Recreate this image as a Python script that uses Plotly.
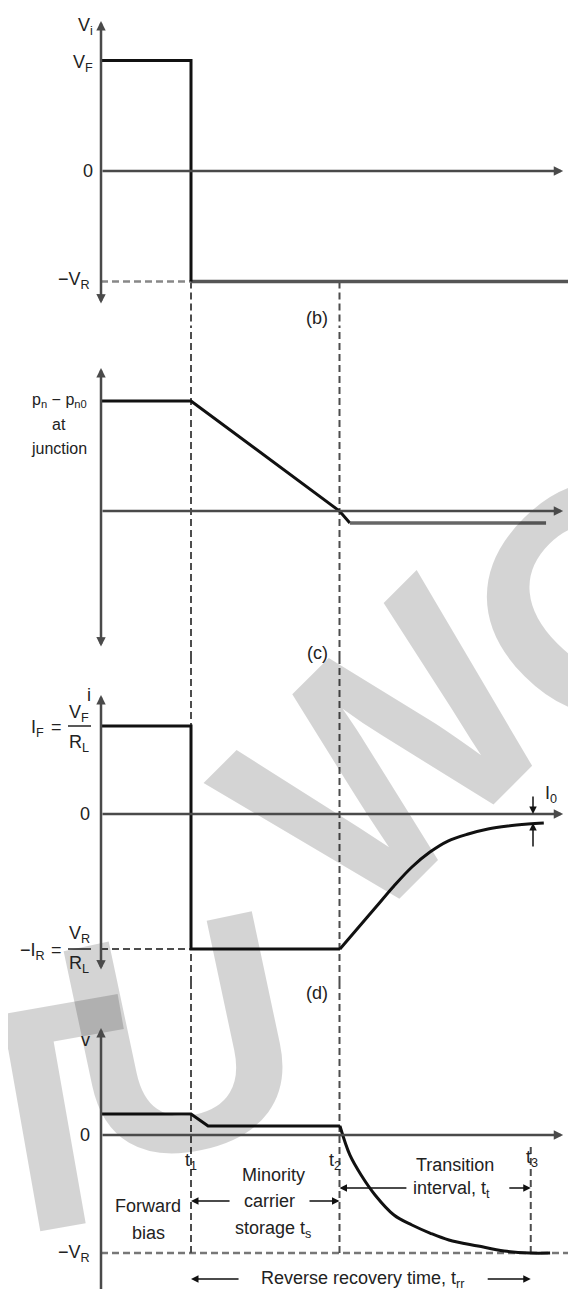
import plotly.graph_objects as go

# time instants (arbitrary units): t1 = end of forward bias, t2 = end of storage, t3 = end of transition
t1, t2, t3 = 2.0, 5.3, 9.55
t_axis_end = 10.27

# (b) applied voltage v_i
V_F, V_R = 1.0, 1.0
vi_time = [0.0, 2.0, 2.0, 10.42]
vi_level = [1.0, 1.0, -1.0, -1.0]

# (c) excess carrier density p_n - p_n0 at the junction
pn_time = [0.0, 2.0, 5.3, 5.53, 9.89]
pn_level = [1.0, 1.0, 0.0, -0.109, -0.109]

# (d) diode current i
I_F, I_R, I_0 = 1.0, 1.534, 0.102
i_time = [0.0, 2.0, 2.0, 5.31, 5.71, 6.11, 6.51, 6.91, 7.31, 7.71, 8.16, 8.6, 9.04, 9.49, 9.84]
i_level = [1.0, 1.0, -1.534, -1.534, -1.295, -1.057, -0.818, -0.602, -0.432, -0.307, -0.227, -0.17, -0.136, -0.114, -0.102]

# (e) diode voltage v
v_time = [0.0, 2.0, 2.38, 5.31, 5.53, 5.78, 6.09, 6.51, 6.91, 7.31, 7.73, 8.38, 8.96, 9.53, 9.98]
v_level = [0.178, 0.178, 0.076, 0.076, -0.169, -0.339, -0.508, -0.678, -0.763, -0.831, -0.89, -0.941, -0.983, -1.0, -1.0]

W, H = 576, 1289
X0_PX, PX_PER_T = 93, 45
FONT = "Liberation Sans"
INK = "#111111"
AXIS = "#4a4a4a"
DASH = "#4d4d4d"

# panel geometry in pixels: top, bottom, zero line, pixels per unit
panels = {
    "y": (0, 320, 163, 110.5),
    "y2": (320, 650, 503, 110.0),
    "y3": (650, 975, 806, 88.0),
    "y4": (975, 1289, 1127, 118.0),
}


def yval(ax, py):
    top, bot, zero, scale = panels[ax]
    return (zero - py) / scale


fig = go.Figure()

annotations = []

# watermark letters, kept faint so the drawing shows through
for ch, px, py, ang in [("T", 35, 1110, -10), ("U", 172, 1030, -12),
                        ("W", 380, 745, -45), ("O", 595, 590, -45)]:
    annotations.append(dict(
        text="<b>%s</b>" % ch, x=px / W, y=1 - py / H, xref="paper", yref="paper",
        xanchor="center", yanchor="middle", showarrow=False, textangle=ang,
        font=dict(family=FONT, size=320, color="rgba(0,0,0,0.17)"),
    ))


def line(ax, xs, ys, color=INK, width=3, dash=None, shape="linear"):
    fig.add_trace(go.Scatter(
        x=xs, y=ys, xaxis="x", yaxis=ax, mode="lines",
        line=dict(color=color, width=width, dash=dash, shape=shape, smoothing=1.0),
        hoverinfo="skip", showlegend=False,
    ))


def vdash(ax, t, y0, y1):
    line(ax, [t, t], [y0, y1], color=DASH, width=2, dash="7px,4px")


def label(text, px, py, size=18, **kw):
    annotations.append(dict(
        text=text, x=px / W, y=1 - py / H, xref="paper", yref="paper",
        xanchor="center", yanchor="middle",
        showarrow=False, font=dict(family=FONT, size=size, color="#222222"), **kw,
    ))


def arrow(ax, x, y, tx, ty, width=1.5, size=1.0, side="end", color=INK):
    annotations.append(dict(
        text="", x=x, y=y, ax=tx, ay=ty, xref="x", yref=ax, axref="x", ayref=ax,
        showarrow=True, arrowhead=2, arrowsize=size, arrowwidth=width,
        arrowcolor=color, arrowside=side, standoff=0, startstandoff=0,
    ))


def axes(ax, top_px, bottom_px, both=True):
    arrow(ax, 0, yval(ax, top_px), 0, yval(ax, bottom_px), width=2.5, size=0.75,
          side="end+start" if both else "end", color=AXIS)
    arrow(ax, t_axis_end, 0, 0, 0, width=2.5, size=0.75, color=AXIS)


# ---- (b) ----
rb = panels["y"]
vdash("y", t1, -V_R, yval("y", rb[1]))
vdash("y", t2, -V_R, yval("y", rb[1]))
line("y", [0, t1], [-V_R, -V_R], color="#888888", width=2.5, dash="7px,4px")
line("y", vi_time[2:], vi_level[2:], color="#555555", width=3.5)
line("y", vi_time[:3], vi_level[:3])
axes("y", 13, 297)

# ---- (c) ----
for t in (t1, t2):
    vdash("y2", t, yval("y2", 650), yval("y2", 320))
line("y2", pn_time[:4], pn_level[:4])
line("y2", pn_time[3:], pn_level[3:], color="#666666", width=3.5)
axes("y2", 360, 640)

# ---- (d) ----
for t in (t1, t2):
    vdash("y3", t, yval("y3", 975), yval("y3", 650))
line("y3", [0, t1], [-I_R, -I_R], color=DASH, width=2, dash="7px,4px")
line("y3", i_time[:4], i_level[:4])
line("y3", i_time[3:], i_level[3:], shape="spline")
axes("y3", 687, 963)
arrow("y3", 9.6, 0, 9.6, 0.216, width=1.5)
arrow("y3", 9.6, -I_0, 9.6, -0.386, width=1.5)

# ---- (e) ----
line("y4", [0, 10.38], [-V_R, -V_R], color="#777777", width=2.5, dash="7px,4px")
for t in (t1, t2):
    vdash("y4", t, -V_R, yval("y4", 975))
vdash("y4", t3, -V_R, yval("y4", 1137))
arrow("y4", 0, yval("y4", 1020), 0, yval("y4", 1289), width=2.5, size=0.75, color=AXIS)
arrow("y4", t_axis_end, 0, 0, 0, width=2.5, size=0.75, color=AXIS)
line("y4", v_time[:4], v_level[:4])
line("y4", v_time[3:], v_level[3:], shape="spline")

y_st = yval("y4", 1193)
arrow("y4", t1, y_st, 2.89, y_st)
arrow("y4", t2, y_st, 4.6, y_st)
y_tr = yval("y4", 1180)
arrow("y4", t2, y_tr, 6.82, y_tr)
arrow("y4", t3, y_tr, 9.04, y_tr)
y_rr = yval("y4", 1271)
arrow("y4", t1, y_rr, 3.09, y_rr)
arrow("y4", t3, y_rr, 8.56, y_rr)

# ---- text ----
label("V<sub>i</sub>", 77, 18)
label("V<sub>F</sub>", 75, 55)
label("0", 80, 163)
label("−V<sub>R</sub>", 66, 273)
label("(b)", 309, 310)
for py in (163, 503, 806, 1127):
    label("t", 567, py)

label("p<sub>n</sub> − p<sub>n0</sub>", 51, 392, size=16)
label("at", 51, 416, size=16)
label("junction", 51, 440, size=16)
label("(c)", 309, 645)

label("i", 81, 687)
label("I<sub>F</sub>", 29, 720)
label("=", 48, 719)
label("V<sub>F</sub>", 71, 705)
label("R<sub>L</sub>", 71, 735)
label("−I<sub>R</sub>", 24, 943)
label("=", 48, 942)
label("V<sub>R</sub>", 71, 927)
label("R<sub>L</sub>", 71, 956)
label("0", 77, 806)
label("I<sub>0</sub>", 543, 786)
label("(d)", 309, 985)

label("v", 77, 1032)
label("0", 77, 1127)
label("−V<sub>R</sub>", 66, 1245)
label("t<sub>1</sub>", 183, 1153)
label("t<sub>2</sub>", 327, 1153)
label("t<sub>3</sub>", 524, 1150)
label("Forward", 140, 1198)
label("bias", 140, 1225)
label("Minority", 265, 1167)
label("carrier", 261, 1193)
label("storage t<sub>s</sub>", 265, 1221)
label("Transition", 447, 1157)
label("interval, t<sub>t</sub>", 443, 1181)
label("Reverse recovery time, t<sub>rr</sub>", 354, 1271)

shapes = [
    dict(type="line", xref="paper", yref="paper", x0=60 / W, x1=83 / W,
         y0=1 - 718 / H, y1=1 - 718 / H, line=dict(color="#222222", width=1.5)),
    dict(type="line", xref="paper", yref="paper", x0=60 / W, x1=83 / W,
         y0=1 - 941 / H, y1=1 - 941 / H, line=dict(color="#222222", width=1.5)),
]

xrange = [-X0_PX / PX_PER_T, (W - X0_PX) / PX_PER_T]
layout_axes = {}
for ax, (top, bot, zero, scale) in panels.items():
    name = "yaxis" if ax == "y" else "yaxis" + ax[1:]
    layout_axes[name] = dict(
        domain=[1 - bot / H, 1 - top / H], range=[yval(ax, bot), yval(ax, top)],
        visible=False, fixedrange=True, anchor="x",
    )

fig.update_layout(
    width=W, height=H, margin=dict(l=0, r=0, t=0, b=0),
    paper_bgcolor="white", plot_bgcolor="rgba(0,0,0,0)",
    xaxis=dict(range=xrange, visible=False, fixedrange=True, domain=[0, 1]),
    annotations=annotations, shapes=shapes,
    **layout_axes,
)

fig.write_html("out.html")
